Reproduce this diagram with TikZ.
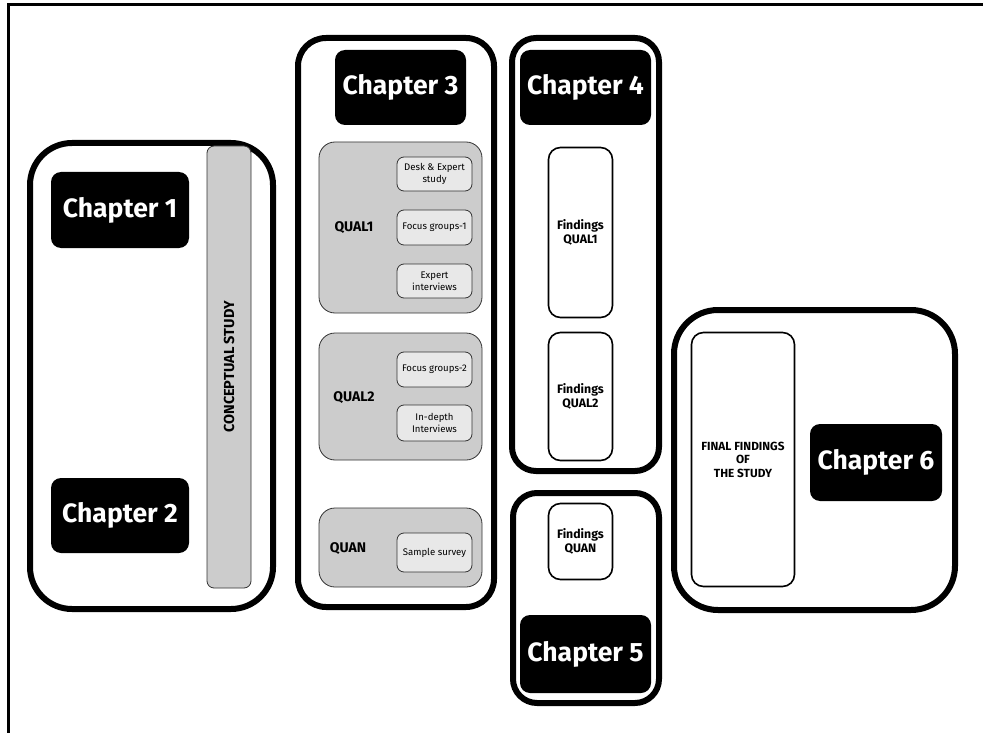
\documentclass[tikz,border=0pt]{standalone}
\usepackage{fontspec}
\setmainfont{Fira Sans}
\setsansfont{Fira Sans}
\tikzset{
  chapbox/.style={draw=black, line width=6pt, rounded corners=#1, inner sep=0pt, outer sep=0pt},
  chaptitle/.style={fill=black, text=white, rounded corners=10pt, inner sep=0pt,
    font=\fontsize{26.5}{30}\selectfont\bfseries},
  graybox/.style={draw=black!80, line width=0.8pt, fill=black!20, rounded corners=16pt, inner sep=0pt},
  subbox/.style={draw=black!80, line width=0.8pt, fill=black!9, rounded corners=7pt, inner sep=0pt,
    align=center, font=\fontsize{9.6}{11.8}\selectfont},
  findbox/.style={draw=black, line width=1.6pt, rounded corners=12pt, inner sep=0pt,
    align=center, font=\fontsize{12.3}{14.5}\selectfont\bfseries},
  methlabel/.style={font=\fontsize{14}{16}\selectfont\bfseries}
}
\begin{document}
\begin{tikzpicture}[x=1pt, y=-1pt]
  \useasboundingbox (0,0) rectangle (983,733);
  % frame round the page
  \draw [line width=3pt] (8,733) -- (8,5) -- (983,5);%

  % Chapters 1 and 2
  \node [chapbox=42pt, minimum width=243pt, minimum height=466pt] (ch12) at (151.5,376) {};%
  \node [chaptitle, minimum width=138pt, minimum height=76pt] (chap1) at (120,210) {Chapter 1};%
  \node [chaptitle, minimum width=138pt, minimum height=75pt] (chap2) at (120,515.5) {Chapter 2};%
  \node [graybox, rounded corners=7pt, minimum width=44pt, minimum height=442pt,
    font=\fontsize{14.5}{16}\selectfont\bfseries] (concept) at (229,367)
    {\rotatebox{90}{CONCEPTUAL STUDY}};%

  % Chapter 3
  \node [chapbox=28pt, minimum width=196pt, minimum height=569pt] (ch3) at (396,322.5) {};%
  \node [chaptitle, minimum width=131pt, minimum height=75pt] (chap3) at (400.5,87.5) {Chapter 3};%
  % QUAL1
  \node [graybox, minimum width=163pt, minimum height=171pt] (qual1) at (400.5,227.5) {};%
  \node [methlabel] (qual1lbl) at (354,228) {QUAL1};%
  \node [subbox, minimum width=75pt, minimum height=34pt] (desk) at (434.5,174) {Desk \& Expert\\study};%
  \node [subbox, minimum width=75pt, minimum height=35pt] (fg1) at (434.5,227.5) {Focus groups-1};%
  \node [subbox, minimum width=75pt, minimum height=34pt] (expint) at (434.5,281) {Expert\\interviews};%
  % QUAL2
  \node [graybox, minimum width=163pt, minimum height=127pt] (qual2) at (400.5,396.5) {};%
  \node [methlabel] (qual2lbl) at (354,398) {QUAL2};%
  \node [subbox, minimum width=75pt, minimum height=35pt] (fg2) at (434.5,369.5) {Focus groups-2};%
  \node [subbox, minimum width=75pt, minimum height=36pt] (indepth) at (434.5,423) {In-depth\\Interviews};%
  % QUAN
  \node [graybox, minimum width=163pt, minimum height=79pt] (quan) at (400.5,547.5) {};%
  \node [methlabel] (quanlbl) at (348,549) {QUAN};%
  \node [subbox, minimum width=75pt, minimum height=39pt] (survey) at (434.5,552.5) {Sample survey};%

  % Chapter 4
  \node [chapbox=24pt, minimum width=147pt, minimum height=433pt] (ch4) at (585.5,254.5) {};%
  \node [chaptitle, minimum width=131pt, minimum height=75pt] (chap4) at (585.5,87.5) {Chapter 4};%
  \node [findbox, minimum width=64pt, minimum height=170pt] (fq1) at (580.5,232.5) {Findings\\QUAL1};%
  \node [findbox, minimum width=64pt, minimum height=128pt] (fq2) at (580.5,396.5) {Findings\\QUAL2};%

  % Chapter 5
  \node [chapbox=24pt, minimum width=146pt, minimum height=210pt] (ch5) at (586,598) {};%
  \node [findbox, minimum width=64pt, minimum height=76pt] (fquan) at (580.5,541.5) {Findings\\QUAN};%
  \node [chaptitle, minimum width=131pt, minimum height=78pt] (chap5) at (585.5,654) {Chapter 5};%

  % Chapter 6
  \node [chapbox=44pt, minimum width=281pt, minimum height=300pt] (ch6) at (814.5,460) {};%
  \node [findbox, minimum width=103pt, minimum height=254pt,
    font=\fontsize{11.8}{13.5}\selectfont\bfseries] (final) at (743,459.5)
    {FINAL FINDINGS\\OF\\THE STUDY};%
  \node [chaptitle, minimum width=132pt, minimum height=77pt] (chap6) at (876,462.5) {Chapter 6};%
\end{tikzpicture}
\end{document}
